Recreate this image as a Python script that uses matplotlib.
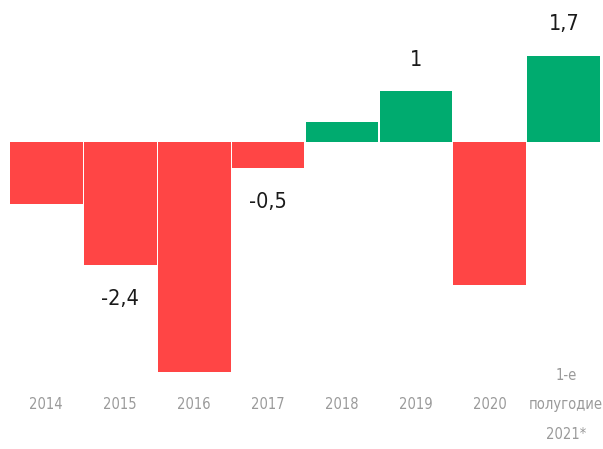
import matplotlib
matplotlib.use("Agg")
import matplotlib.pyplot as plt
from matplotlib import font_manager as fm

categories = ["2014", "2015", "2016", "2017", "2018", "2019", "2020", "1-е\nполугодие\n2021*"]
values = [-1.2, -2.4, -4.5, -0.5, 0.4, 1.0, -2.8, 1.7]
value_labels = {1: "-2,4", 3: "-0,5", 5: "1", 7: "1,7"}

RED = "#FF4545"
GREEN = "#00AB6F"

# look for a condensed face if one is installed
cond = None
for f in fm.fontManager.ttflist:
    n = f.name.lower()
    if ("condensed" in n or "narrow" in n or f.stretch in ("condensed", "semi-condensed", "extra-condensed")) and f.style == "normal" and f.weight in (400, "normal", "regular"):
        cond = f
        break

def fp(size):
    if cond is not None:
        return fm.FontProperties(fname=cond.fname, size=size)
    return fm.FontProperties(family="Roboto", size=size)

fig = plt.figure(figsize=(6.03, 4.49), dpi=100)
ax = fig.add_axes([0, 0, 1, 1])
x = list(range(len(categories)))
colors = [GREEN if v > 0 else RED for v in values]
ax.bar(x, values, width=0.985, color=colors, linewidth=0)

ax.set_xlim(-0.626, 7.53)
ax.set_ylim(-6.01, 2.794)
ax.axis("off")

lab_size = 15.5 if cond is not None else 13
for i, t in value_labels.items():
    v = values[i]
    if v > 0:
        ax.text(i, v + 0.62, t, ha="center", va="center", color="#1a1a1a", fontproperties=fp(lab_size))
    else:
        ax.text(i, v - 0.66, t, ha="center", va="center", color="#1a1a1a", fontproperties=fp(lab_size))

tick_size = 10.5 if cond is not None else 9.5
for i, c in enumerate(categories):
    xi = i + 0.03 if "\n" in c else i
    ax.text(xi, -5.14, c, ha="center", va="center", color="#9a9a9a",
            fontproperties=fp(tick_size), linespacing=2.2, multialignment="center")

fig.savefig("out.png", dpi=100)
